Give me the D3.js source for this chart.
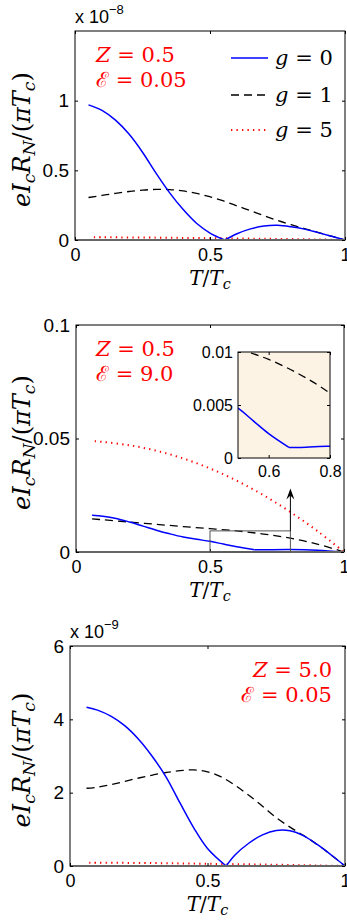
<!DOCTYPE html>
<html>
<head>
<meta charset="utf-8">
<script src="https://cdn.jsdelivr.net/npm/d3@7"></script>
<style>
  body { margin: 0; background: #fff; }
</style>
</head>
<body>
<script>
"use strict";

// ---- data: [T/Tc, eIcRN/(pi Tc)] ----
// top panel, units of 1e-8
var p1G0 = [[0.05,0.97],[0.10,0.93],[0.15,0.86],[0.20,0.76],[0.25,0.63],[0.30,0.48],[0.35,0.34],
            [0.40,0.22],[0.45,0.12],[0.50,0.05],[0.555,0],[0.60,0.045],[0.65,0.08],[0.70,0.10],
            [0.75,0.105],[0.80,0.095],[0.85,0.078],[0.90,0.053],[0.95,0.027],[1.0,0]];
var p1G1 = [[0.05,0.305],[0.10,0.32],[0.15,0.335],[0.20,0.348],[0.25,0.358],[0.30,0.363],[0.35,0.362],
            [0.40,0.352],[0.45,0.335],[0.50,0.31],[0.55,0.28],[0.60,0.245],[0.65,0.21],[0.70,0.175],
            [0.75,0.14],[0.80,0.11],[0.85,0.082],[0.90,0.054],[0.95,0.027],[1.0,0]];
var p1G5 = [[0.07,0.02],[0.3,0.017],[0.5,0.013],[0.7,0.009],[0.9,0.004],[1.0,0]];

// middle panel
var p2G0 = [[0.06,0.0162],[0.10,0.0158],[0.15,0.0148],[0.20,0.0132],[0.25,0.0114],[0.30,0.0096],
            [0.35,0.0080],[0.40,0.0066],[0.45,0.0056],[0.50,0.0047],[0.55,0.0035],[0.60,0.0023],
            [0.666,0.0010],[0.70,0.0010],[0.80,0.0011],[0.90,0.0008],[1.0,0]];
var p2G1 = [[0.06,0.0146],[0.10,0.0142],[0.20,0.0132],[0.30,0.0122],[0.40,0.0112],[0.50,0.0103],
            [0.60,0.0093],[0.70,0.0079],[0.80,0.0061],[0.90,0.0035],[1.0,0]];
var p2G5 = [[0.07,0.0488],[0.10,0.0485],[0.20,0.0470],[0.30,0.0446],[0.40,0.0412],[0.50,0.0368],
            [0.60,0.0314],[0.70,0.0250],[0.80,0.0176],[0.90,0.0093],[1.0,0]];

// bottom panel, units of 1e-9
var p3G0 = [[0.06,4.33],[0.10,4.25],[0.15,4.08],[0.20,3.82],[0.25,3.45],[0.30,2.98],[0.35,2.42],
            [0.40,1.72],[0.45,1.04],[0.50,0.48],[0.568,0],[0.60,0.30],[0.65,0.62],[0.70,0.85],
            [0.75,0.97],[0.80,0.96],[0.85,0.82],[0.90,0.58],[0.95,0.30],[1.0,0]];
var p3G1 = [[0.06,2.12],[0.10,2.15],[0.15,2.22],[0.20,2.31],[0.25,2.40],[0.30,2.48],[0.35,2.55],
            [0.40,2.60],[0.45,2.62],[0.50,2.57],[0.55,2.43],[0.60,2.20],[0.65,1.93],[0.70,1.63],
            [0.75,1.32],[0.80,1.06],[0.85,0.83],[0.90,0.58],[0.95,0.30],[1.0,0]];
var p3G5 = [[0.07,0.09],[0.3,0.08],[0.5,0.06],[0.7,0.04],[0.9,0.015],[1.0,0]];

// corners of the curves (not smoothed)
var p1Kinks = [0.555], p2Kinks = [0.666], p3Kinks = [0.568];

var xTicks = [0, 0.5, 1];
var p1YTicks = [0, 0.5, 1];
var p2YTicks = [0, 0.05, 0.1];
var p3YTicks = [0, 2, 4, 6];
var insetXTicks = [0.6, 0.8];
var insetYTicks = [0, 0.005, 0.01];
var legendLabels = ["0", "1", "5"];

// zoom box / arrow in the middle panel
var zoomBox = {x0: 0.5, x1: 0.8, y0: 0, y1: 0.0093};
var arrowTop = 0.028;

var W = 347, H = 920;
var sans = "'Liberation Sans', Arial, sans-serif";
var serif = "'DejaVu Serif', serif";

var svg = d3.select("body").append("svg")
    .attr("width", W).attr("height", H);

var styles = {
  g0: {stroke: "#0000ff", width: 1.5, dash: null},
  g1: {stroke: "#000", width: 1.3, dash: "8,5"},
  g5: {stroke: "#ff0000", width: 2, dash: "1.3,4.2"}
};

function segments(pts, kinks) {
  var out = [], cur = [];
  pts.forEach(function (p) {
    cur.push(p);
    if (kinks.indexOf(p[0]) >= 0) { out.push(cur); cur = [p]; }
  });
  if (cur.length > 1) out.push(cur);
  return out;
}

// writes TeX-ish text: letters italic, "_x" subscripts
function mathText(sel, tokens, size) {
  var down = false;
  tokens.forEach(function (tk) {
    var sub = tk.charAt(0) === "_";
    var t = sub ? tk.slice(1) : tk;
    var ts = sel.append("tspan").text(t);
    if (/^[A-Za-zπ]$/.test(t)) ts.style("font-style", "italic");
    if (sub) { ts.attr("font-size", size * 0.72).attr("dy", size * 0.22); down = true; }
    else if (down) { ts.attr("dy", -size * 0.22); down = false; }
  });
}

var ylabTokens = ["e", "I", "_c", "R", "_N", "/(", "π", "T", "_c", ")"];
var xlabTokens = ["T", "/", "T", "_c"];

function drawPanel(cfg) {
  var x = d3.scaleLinear().domain([0, 1]).range([cfg.left, cfg.right]);
  var y = d3.scaleLinear().domain([0, cfg.yMax]).range([cfg.bottom, cfg.top]);
  var g = svg.append("g");

  // curves
  var line = d3.line().x(function (d) { return x(d[0]); }).y(function (d) { return y(d[1]); })
      .curve(d3.curveCatmullRom.alpha(0.5));
  ["g5", "g1", "g0"].forEach(function (k) {
    var st = styles[k];
    segments(cfg.series[k], k === "g0" ? cfg.kinks : []).forEach(function (seg) {
      g.append("path").attr("d", line(seg)).attr("fill", "none")
        .attr("stroke", st.stroke).attr("stroke-width", st.width)
        .attr("stroke-dasharray", st.dash);
    });
  });

  // box + ticks (inward, all four sides)
  g.append("rect").attr("x", cfg.left).attr("y", cfg.top)
    .attr("width", cfg.right - cfg.left).attr("height", cfg.bottom - cfg.top)
    .attr("fill", "none").attr("stroke", "#000").attr("stroke-width", 1);
  g.append("line").attr("x1", cfg.left).attr("x2", cfg.right)
    .attr("y1", cfg.bottom).attr("y2", cfg.bottom)
    .attr("stroke", "#666").attr("stroke-width", 2);

  g.append("g").attr("transform", "translate(0," + cfg.bottom + ")")
    .call(d3.axisBottom(x).tickValues(xTicks).tickSize(-3).tickPadding(8).tickFormat(String))
    .call(function (a) {
      a.select(".domain").remove();
      a.selectAll("text").attr("font-family", sans).attr("font-size", 18).attr("fill", "#000");
    });
  g.append("g").attr("transform", "translate(0," + cfg.top + ")")
    .call(d3.axisTop(x).tickValues(xTicks).tickSize(-3).tickFormat(""))
    .call(function (a) { a.select(".domain").remove(); });
  g.append("g").attr("transform", "translate(" + cfg.left + ",0)")
    .call(d3.axisLeft(y).tickValues(cfg.yTicks).tickSize(-3).tickPadding(6).tickFormat(String))
    .call(function (a) {
      a.select(".domain").remove();
      a.selectAll("text").attr("font-family", sans).attr("font-size", 19).attr("fill", "#000");
    });
  g.append("g").attr("transform", "translate(" + cfg.right + ",0)")
    .call(d3.axisRight(y).tickValues(cfg.yTicks).tickSize(-3).tickFormat(""))
    .call(function (a) { a.select(".domain").remove(); });

  // exponent
  if (cfg.expo) {
    var ex = g.append("text").attr("x", cfg.left).attr("y", cfg.top - 8)
      .attr("font-family", sans).attr("font-size", 18).text("x 10");
    ex.append("tspan").attr("font-size", 13).attr("dy", -9).text(cfg.expo);
  }

  // axis labels
  var yl = g.append("text")
    .attr("transform", "translate(30," + ((cfg.top + cfg.bottom) / 2 + 4) + ") rotate(-90)")
    .attr("text-anchor", "middle").attr("font-family", serif).attr("font-size", 24);
  mathText(yl, ylabTokens, 24);
  var xl = g.append("text").attr("x", (cfg.left + cfg.right) / 2).attr("y", cfg.bottom + 45)
    .attr("text-anchor", "middle").attr("font-family", serif).attr("font-size", 20);
  mathText(xl, xlabTokens, 20);

  // parameter note
  var n1 = g.append("text").attr("x", cfg.noteX).attr("y", cfg.top + 31)
    .attr("text-anchor", cfg.noteAnchor).attr("font-family", serif).attr("font-size", 21)
    .attr("fill", "#ff0000");
  mathText(n1, ["Z", " = " + cfg.note[0]], 21);
  g.append("text").attr("x", cfg.noteX).attr("y", cfg.top + 56)
    .attr("text-anchor", cfg.noteAnchor).attr("font-family", serif).attr("font-size", 21)
    .attr("fill", "#ff0000").text("ℰ = " + cfg.note[1]);

  return {x: x, y: y, g: g};
}

// ---- top panel ----
var P1 = drawPanel({left: 75, right: 345, top: 31, bottom: 240, yMax: 1.5, yTicks: p1YTicks,
  expo: "−8", note: ["0.5", "0.05"], noteX: 96, noteAnchor: "start",
  series: {g0: p1G0, g1: p1G1, g5: p1G5}, kinks: p1Kinks});

// legend
var legY = [58, 95, 130];
["g0", "g1", "g5"].forEach(function (k, i) {
  var st = styles[k];
  P1.g.append("line").attr("x1", 231).attr("x2", 268).attr("y1", legY[i]).attr("y2", legY[i])
    .attr("stroke", st.stroke).attr("stroke-width", st.width).attr("stroke-dasharray", st.dash);
  var t = P1.g.append("text").attr("x", 275).attr("y", legY[i] + 7)
    .attr("font-family", serif).attr("font-size", 21);
  mathText(t, ["g", " = " + legendLabels[i]], 21);
});

// ---- middle panel ----
var P2 = drawPanel({left: 76, right: 344, top: 325, bottom: 552, yMax: 0.1, yTicks: p2YTicks,
  expo: null, note: ["0.5", "9.0"], noteX: 96, noteAnchor: "start",
  series: {g0: p2G0, g1: p2G1, g5: p2G5}, kinks: p2Kinks});

// zoom rectangle and arrow
P2.g.append("rect").attr("x", P2.x(zoomBox.x0)).attr("y", P2.y(zoomBox.y1))
  .attr("width", P2.x(zoomBox.x1) - P2.x(zoomBox.x0))
  .attr("height", P2.y(zoomBox.y0) - P2.y(zoomBox.y1))
  .attr("fill", "none").attr("stroke", "#555").attr("stroke-width", 1);
var ax = P2.x(zoomBox.x1), ayTip = P2.y(arrowTop);
P2.g.append("line").attr("x1", ax).attr("x2", ax).attr("y1", P2.y(zoomBox.y1)).attr("y2", ayTip + 4)
  .attr("stroke", "#000").attr("stroke-width", 1);
P2.g.append("path")
  .attr("d", "M" + ax + "," + ayTip + "L" + (ax - 4) + "," + (ayTip + 11) + "L" + ax + "," + (ayTip + 7) +
       "L" + (ax + 4) + "," + (ayTip + 11) + "Z")
  .attr("fill", "#000");

// inset
var inset = {left: 238, right: 330, top: 352, bottom: 458};
var ix = d3.scaleLinear().domain([zoomBox.x0, zoomBox.x1]).range([inset.left, inset.right]);
var iy = d3.scaleLinear().domain([0, 0.01]).range([inset.bottom, inset.top]);
var ig = svg.append("g");
ig.append("rect").attr("x", inset.left).attr("y", inset.top)
  .attr("width", inset.right - inset.left).attr("height", inset.bottom - inset.top)
  .attr("fill", "#fdf3e5");
svg.append("clipPath").attr("id", "insetClip").append("rect")
  .attr("x", inset.left).attr("y", inset.top)
  .attr("width", inset.right - inset.left).attr("height", inset.bottom - inset.top);
var iline = d3.line().x(function (d) { return ix(d[0]); }).y(function (d) { return iy(d[1]); })
  .curve(d3.curveCatmullRom.alpha(0.5));
var ic = ig.append("g").attr("clip-path", "url(#insetClip)");
segments(p2G1, []).forEach(function (seg) {
  ic.append("path").attr("d", iline(seg)).attr("fill", "none")
    .attr("stroke", "#000").attr("stroke-width", 1.3).attr("stroke-dasharray", "8,5");
});
segments(p2G0, p2Kinks).forEach(function (seg) {
  ic.append("path").attr("d", iline(seg)).attr("fill", "none")
    .attr("stroke", "#0000ff").attr("stroke-width", 1.5);
});
ig.append("rect").attr("x", inset.left).attr("y", inset.top)
  .attr("width", inset.right - inset.left).attr("height", inset.bottom - inset.top)
  .attr("fill", "none").attr("stroke", "#000").attr("stroke-width", 1);
ig.append("g").attr("transform", "translate(0," + inset.bottom + ")")
  .call(d3.axisBottom(ix).tickValues(insetXTicks).tickSize(-3).tickPadding(8).tickFormat(String))
  .call(function (a) {
    a.select(".domain").remove();
    a.selectAll("text").attr("font-family", sans).attr("font-size", 16).attr("fill", "#000");
  });
ig.append("g").attr("transform", "translate(0," + inset.top + ")")
  .call(d3.axisTop(ix).tickValues(insetXTicks).tickSize(-3).tickFormat(""))
  .call(function (a) { a.select(".domain").remove(); });
ig.append("g").attr("transform", "translate(" + inset.left + ",0)")
  .call(d3.axisLeft(iy).tickValues(insetYTicks).tickSize(-3).tickPadding(5).tickFormat(String))
  .call(function (a) {
    a.select(".domain").remove();
    a.selectAll("text").attr("font-family", sans).attr("font-size", 16).attr("fill", "#000");
  });
ig.append("g").attr("transform", "translate(" + inset.right + ",0)")
  .call(d3.axisRight(iy).tickValues(insetYTicks).tickSize(-3).tickFormat(""))
  .call(function (a) { a.select(".domain").remove(); });

// ---- bottom panel ----
drawPanel({left: 70, right: 345, top: 646, bottom: 866, yMax: 6, yTicks: p3YTicks,
  expo: "−9", note: ["5.0", "0.05"], noteX: 332, noteAnchor: "end",
  series: {g0: p3G0, g1: p3G1, g5: p3G5}, kinks: p3Kinks});
</script>
</body>
</html>
